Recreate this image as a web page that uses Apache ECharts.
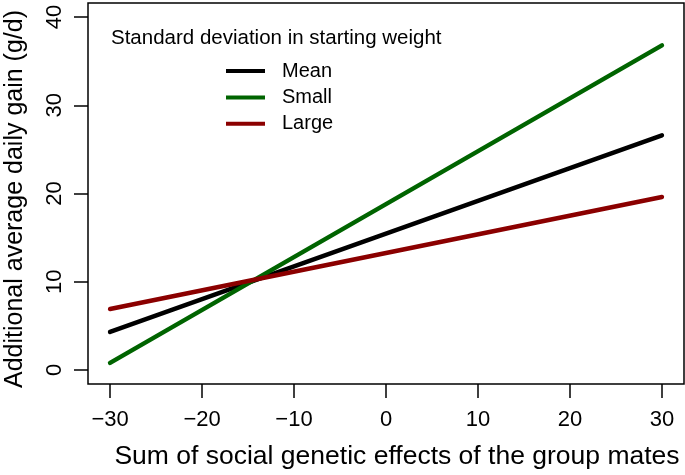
<!DOCTYPE html>
<html><head><meta charset="utf-8">
<script src="https://cdn.jsdelivr.net/npm/echarts@6/dist/echarts.min.js"></script>
<style>html,body{margin:0;padding:0;background:#fff}#c{width:685px;height:475px}</style>
</head><body><div id="c"></div>
<script>
const xEnds = [-30, 30];
const meanVals = [4.3, 26.6];
const smallVals = [0.8, 36.8];
const largeVals = [6.9, 19.6];
const xTicks = [-30, -20, -10, 0, 10, 20, 30];
const yTicks = [0, 10, 20, 30, 40];
const seriesNames = ['Mean', 'Small', 'Large'];
const seriesColors = ['#000000', '#006400', '#8B0000'];
const legendTitle = 'Standard deviation in starting weight';
const xTitle = 'Sum of social genetic effects of the group mates';
const yTitle = 'Additional average daily gain (g/d)';

const FONT = 'Liberation Sans, Arial, sans-serif';
const fmt = v => v < 0 ? '\u2212' + Math.abs(v) : String(v);
const pairs = vals => xEnds.map((x, i) => [x, vals[i]]);
const chart = echarts.init(document.getElementById('c'));
chart.setOption({
  animation: false,
  backgroundColor: '#fff',
  grid: { left: 88, right: 1, top: 3, bottom: 91, show: true, borderColor: '#000', borderWidth: 1.5, outerBoundsMode: 'none', containLabel: false },
  title: { text: legendTitle, left: 111, top: 28, padding: 0,
    textStyle: { fontFamily: FONT, fontSize: 20.5, fontWeight: 'normal', color: '#000' } },
  legend: {
    orient: 'vertical', left: 226, top: 61, padding: 0, icon: 'rect', itemWidth: 39, itemHeight: 4,
    itemGap: 6.4, data: seriesNames,
    textStyle: { fontFamily: FONT, fontSize: 20, color: '#000', lineHeight: 20, padding: [0, 0, 0, 12] }
  },
  graphic: [
    { type: 'text', x: 397, y: 457, style: { text: xTitle, fontFamily: FONT, fontSize: 26.5, fill: '#000', align: 'center', verticalAlign: 'middle' } },
    { type: 'text', x: 15, y: 199, rotation: Math.PI / 2, style: { text: yTitle, fontFamily: FONT, fontSize: 25, fill: '#000', align: 'center', verticalAlign: 'middle' } }
  ],
  xAxis: {
    type: 'value', min: -32.4, max: 32.4,
    splitLine: { show: false }, axisLine: { show: false, onZero: false },
    axisTick: { show: true, length: 14, customValues: xTicks, lineStyle: { color: '#000', width: 1.5 } },
    axisLabel: { customValues: xTicks, formatter: fmt, margin: 25, fontFamily: FONT, fontSize: 22, color: '#000' }
  },
  yAxis: {
    type: 'value', min: -1.6, max: 41.6,
    splitLine: { show: false }, axisLine: { show: false, onZero: false },
    axisTick: { show: true, length: 14, customValues: yTicks, lineStyle: { color: '#000', width: 1.5 } },
    axisLabel: { customValues: yTicks, formatter: fmt, rotate: 90, margin: 22, fontFamily: FONT, fontSize: 22, color: '#000' }
  },
  series: [meanVals, smallVals, largeVals].map((vals, i) => ({
    name: seriesNames[i], type: 'line', data: pairs(vals), symbol: 'none',
    lineStyle: { width: 4.5, color: seriesColors[i], cap: 'round' }, itemStyle: { color: seriesColors[i] }
  }))
});
</script></body></html>
